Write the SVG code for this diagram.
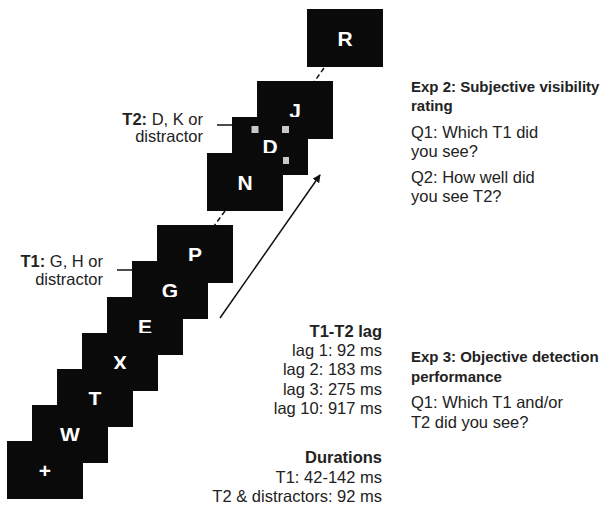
<svg xmlns="http://www.w3.org/2000/svg" width="603" height="509" viewBox="0 0 603 509">
<defs>
<style>
.box{fill:#0a0a0a}
.let{fill:#fff;font-family:"Liberation Sans",Arial,sans-serif;font-weight:bold;font-size:21px;text-anchor:middle}
.lbl{fill:#222;font-family:"Liberation Sans",Arial,sans-serif;font-size:16.5px}
.b{font-weight:bold}
.hd{font-weight:bold;font-size:15px}
.end{text-anchor:end}
.sq{fill:#c8c8c8}
.ln{stroke:#111;stroke-width:1.5;fill:none}
.dash{stroke:#111;stroke-width:1.5;stroke-dasharray:5 3;fill:none}
</style>
<marker id="ah" viewBox="0 0 10 10" refX="9" refY="5" markerWidth="8" markerHeight="8" orient="auto" markerUnits="userSpaceOnUse">
<path d="M0,0 L10,5 L0,10 z" fill="#111"/>
</marker>
</defs>
<rect width="603" height="509" fill="#fff"/>
<g id="frame-R"><rect class="box" x="307" y="9" width="76" height="58"/><text class="let" x="345" y="45.5">R</text></g>
<g id="frame-J"><rect class="box" x="257" y="81" width="76" height="58"/><text class="let" x="295" y="117.5">J</text></g>
<g id="frame-D"><rect class="box" x="232" y="117" width="76" height="58"/><text class="let" x="270" y="153.5">D</text>
<rect class="sq" x="251.5" y="126" width="7" height="7"/><rect class="sq" x="282" y="126" width="7" height="7"/><rect class="sq" x="282" y="157" width="7" height="7"/></g>
<g id="frame-N"><rect class="box" x="207" y="153" width="76" height="58"/><text class="let" x="245" y="189.5">N</text></g>
<g id="frame-P"><rect class="box" x="157" y="225" width="76" height="58"/><text class="let" x="195" y="261.5">P</text></g>
<g id="frame-G"><rect class="box" x="132" y="261" width="76" height="58"/><text class="let" x="170" y="297.5">G</text></g>
<g id="frame-E"><rect class="box" x="107" y="297" width="76" height="58"/><text class="let" x="145" y="333.5">E</text></g>
<g id="frame-X"><rect class="box" x="82" y="333" width="76" height="58"/><text class="let" x="120" y="369.5">X</text></g>
<g id="frame-T"><rect class="box" x="57" y="369" width="76" height="58"/><text class="let" x="95" y="405.5">T</text></g>
<g id="frame-W"><rect class="box" x="32" y="405" width="76" height="58"/><text class="let" x="70" y="441.5">W</text></g>
<g id="frame-fix"><rect class="box" x="7" y="441" width="76" height="58"/><text class="let" x="45" y="477.5">+</text></g>
<g id="connectors">
<line class="dash" x1="324" y1="68" x2="314" y2="82"/>
<line class="dash" x1="225" y1="211" x2="214" y2="226"/>
<line class="ln" x1="217" y1="125" x2="232" y2="125"/>
<line class="ln" x1="117" y1="270" x2="133" y2="270"/>
<line class="ln" x1="220" y1="318" x2="320" y2="175" marker-end="url(#ah)"/>
</g>
<g id="label-T2" class="lbl end"><text x="203" y="125"><tspan class="b">T2:</tspan> D, K or</text><text x="203" y="142">distractor</text></g>
<g id="label-T1" class="lbl end"><text x="103" y="267"><tspan class="b">T1:</tspan> G, H or</text><text x="103" y="285">distractor</text></g>
<g id="lag" class="lbl end">
<text x="382" y="337" class="b">T1-T2 lag</text>
<text x="382" y="356">lag 1: 92 ms</text>
<text x="382" y="375">lag 2: 183 ms</text>
<text x="382" y="395">lag 3: 275 ms</text>
<text x="382" y="414">lag 10: 917 ms</text>
</g>
<g id="durations" class="lbl end">
<text x="382" y="463" class="b">Durations</text>
<text x="382" y="483">T1: 42-142 ms</text>
<text x="382" y="502">T2 &amp; distractors: 92 ms</text>
</g>
<g id="exp2" class="lbl">
<text x="411" y="92" class="hd">Exp 2: Subjective visibility</text>
<text x="411" y="111" class="hd">rating</text>
<text x="411" y="138">Q1: Which T1 did</text>
<text x="411" y="157">you see?</text>
<text x="411" y="183">Q2: How well did</text>
<text x="411" y="202">you see T2?</text>
</g>
<g id="exp3" class="lbl">
<text x="411" y="362" class="hd">Exp 3: Objective detection</text>
<text x="411" y="382" class="hd">performance</text>
<text x="411" y="408">Q1: Which T1 and/or</text>
<text x="411" y="428">T2 did you see?</text>
</g>
</svg>
